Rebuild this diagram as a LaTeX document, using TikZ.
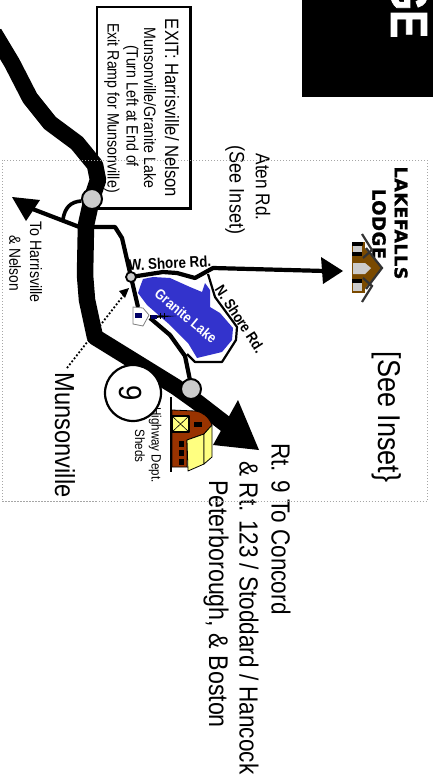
\documentclass[tikz,border=0pt]{standalone}
\usepackage{fontspec}
\setmainfont[FakeStretch=.86]{Liberation Sans}
\newfontfamily\lodgefont[LetterSpace=3,FakeBold=1.2]{DejaVu Sans Bold}
\newfontfamily\bigfont[FakeStretch=.8,FakeBold=1.5]{Liberation Sans Bold}
\newcommand{\fs}[1]{\fontsize{#1}{#1}\selectfont}
\definecolor{lake}{HTML}{3333CC}
\definecolor{lodgebrown}{HTML}{7A4A00}
\definecolor{roofgray}{HTML}{333333}
\definecolor{barnbrown}{HTML}{993300}
\definecolor{barnyellow}{HTML}{FFFF80}
\definecolor{stopgray}{HTML}{CCCCCC}
\tikzset{
  vtext/.style={rotate=-90,inner sep=0pt,anchor=center,align=center},
  road/.style={draw=black,line join=round,line cap=butt,line width=4.2pt},
  mainroad/.style={draw=black,line join=round,line width=16.5pt},
  tiphead/.style={fill=black,draw=none},
  bigstop/.style={circle,draw=black,line width=2pt,fill=stopgray,minimum size=20pt,inner sep=0pt},
  smallstop/.style={circle,draw=black,line width=1.8pt,fill=stopgray,minimum size=10pt,inner sep=0pt},
  routeshield/.style={circle,draw=black,line width=2.2pt,fill=white,minimum size=56pt,inner sep=0pt},
  barnline/.style={draw=black,line width=.8pt,line join=round},
}
\begin{document}
\begin{tikzpicture}[x=1pt,y=-1pt]
\useasboundingbox (0,0) rectangle (433,781);
% title block
\fill[black] (302,0) rectangle (433,97);
\begin{scope}
\clip (302,0) rectangle (433,97);
\node[vtext,text=white] (title) at (409,8) {\bigfont\fs{52}GE};
\end{scope}
% exit box
\draw[line width=2.4pt,fill=white] (97,7) rectangle (190.5,208.5);
\node[vtext] (exit1) at (172,108) {\fs{19.3}EXIT: Harrisville/ Nelson};
\node[vtext] (exit2) at (150,108) {\fs{16.5}Munsonville/Granite Lake};
\node[vtext] (exit3) at (131,106) {\fs{16.5}(Turn Left at End of};
\node[vtext] (exit4) at (112,108) {\fs{16.5}Exit Ramp for Munsonville)};
% pointer under the main road
\draw[line width=1.8pt,dotted] (67,368) -- (127,291);
\fill[black] (129,288) -- (125,298) -- (119,291) -- cycle;
% lake
\fill[lake] (140,287) -- (143,279) -- (153,277) -- (170,278) -- (190,287) -- (202,292) -- (205,283) -- (210,290) -- (210,307) -- (220,313) -- (233,328) -- (232,340) -- (222,352) -- (197,358) -- (188,343) -- (170,325) -- (147,305) -- (138,293) -- cycle;
\node[inner sep=0pt,rotate=-40,text=white] (lakename) at (186,316) {\fs{14.5}\bfseries Granite Lake};
% secondary roads
\draw[draw=black,line width=2.2pt,line join=round] (208,274) -- (215,297) -- (237,327) -- (236,340) -- (222,362) -- (195,362) -- (187,354);
\draw[road] (93,227) -- (115,227) -- (122,238) -- (131,277) -- (138,307);
\draw[road] (150,318) -- (170,335) -- (185,356) -- (191,385);
\draw[road] (131,277) -- (163,272) -- (177,273) -- (195,278) -- (213,268) -- (325,271);
\fill[tiphead] (343,271) -- (321,257) -- (323,284) -- cycle;
\draw[road] (82,228) -- (30,208);
\fill[tiphead] (12,197) -- (40,200) -- (26,221) -- cycle;
\draw[road,line width=3.6pt] (81,201) .. controls (70,202) and (65,208) .. (63,219);
% main road
\draw[mainroad] (-6,33) -- (12,63) -- (30,98) -- (50,123) -- (77,143) -- (95,165) -- (98,180) -- (92,198) -- (86,225) -- (85,275) -- (87,300) -- (95,337) -- (176,387) -- (197,402) -- (228,426);
\fill[tiphead] (238,400) -- (259,450) -- (213,445) -- cycle;
% icon on the west side of the lake
\filldraw[draw=gray,fill=white,line width=.8pt] (133,307) -- (143,308) -- (149,315) -- (143,326) -- (133,324) -- cycle;
\fill[black!60!blue] (135,313) rectangle (142,318);
\fill[black] (150,315) -- (176,316) -- (150,318.5) -- cycle;
\fill[black!60!blue] (151,314.5) rectangle (157,319);
\draw[line width=.5pt] (160,313) -- (160,319) (164,313) -- (164,319);
% labels
\node[vtext] (aten) at (263,187) {\fs{20}Aten Rd.};
\node[vtext] (inset) at (235,190) {\fs{21}(See Inset)};
\node[vtext] (harris) at (36,262) {\fs{16.5}To Harrisville};
\node[vtext] (nelson) at (15,263) {\fs{16}\& Nelson};
\node[vtext] (lakefalls) at (401,223) {\lodgefont\fs{17.5}LAKEFALLS};
\node[vtext] (lodge) at (379,224) {\lodgefont\fs{18}LODGE};
\node[inner sep=0pt,rotate=3] (wshore) at (170,263) {\fs{15.5}\bfseries W. Shore Rd.};
\node[inner sep=0pt,rotate=-57] (nshore) at (240,319) {\fs{15}\bfseries N. Shore Rd.};
\node[vtext] (seeinset) at (387,417) {\fs{31.5}[See Inset\}};
\node[vtext] (munson) at (65,435) {\fs{27.5}Munsonville};
\node[vtext] (rt9) at (281,529) {\fs{26.2}Rt. 9 To Concord};
\node[vtext] (rt123) at (249,618) {\fs{26.2}\& Rt. 123 / Stoddard / Hancock};
\node[vtext] (peter) at (216,604) {\fs{27}Peterborough, \& Boston};
\node[vtext] (highway) at (155,445) {\fs{13.5}Highway Dept.};
\node[vtext] (sheds) at (140,446) {\fs{13.5}Sheds};
% route shield
\node[routeshield] (shield) at (133,393) {};
\node[vtext] (nine) at (131,393) {\fs{32}9};
% junctions
\node[bigstop] (junctionA) at (92,199) {};
\node[bigstop] (junctionB) at (191,389) {};
\node[smallstop] (junctionC) at (131,277) {};
% lodge icon
\fill[lodgebrown] (352,242) rectangle (365,293);
\fill[black] (352,242) rectangle (363,246);
\fill[black] (352,252) rectangle (363,256);
\fill[black] (352,279) rectangle (363,283);
\fill[stopgray] (353,246) rectangle (362,252);
\fill[stopgray] (353,283) rectangle (362,291);
\fill[lodgebrown] (362,245) -- (382,268) -- (362,292) -- cycle;
\fill[stopgray] (353,263) -- (365,263) -- (371,268) -- (365,274) -- (353,274) -- cycle;
\draw[draw=roofgray,line width=2.2pt,line join=miter] (362,234) -- (372,250) -- (363,258);
\draw[draw=roofgray,line width=2.2pt,line join=miter] (362,302) -- (372,286) -- (363,278);
\draw[draw=roofgray,line width=2.2pt,line join=miter] (366,248) -- (382,268) -- (366,289);
% barn
\draw[draw=black,line width=1.1pt] (171,397) -- (171,472);
\filldraw[barnline,fill=barnbrown] (172,410) -- (195,411) .. controls (203,412) and (209,417) .. (212,425) -- (204,434) -- (187,440) -- (187,467) -- (172,467) -- cycle;
\filldraw[barnline,fill=barnyellow,draw=black,line width=1.2pt] (172,416) rectangle (189,432);
\draw[line width=.6pt] (172,416) -- (189,432) (172,432) -- (189,416);
\fill[black] (194,422) rectangle (202,427);
\fill[black] (179,441) rectangle (184,447);
\fill[black] (179,450) rectangle (184,456);
\fill[black] (179,459) rectangle (184,465);
\filldraw[barnline,fill=barnyellow] (187,440) -- (204,434) -- (204,464) -- (188,471) -- cycle;
\filldraw[barnline,fill=barnyellow] (204,434) -- (212,425) -- (212,457) -- (204,464) -- cycle;
% inset frame
\draw[gray!70,line width=1pt,dash pattern=on 1.4pt off 1.6pt] (2,160) rectangle (427,501.5);
\end{tikzpicture}
\end{document}
